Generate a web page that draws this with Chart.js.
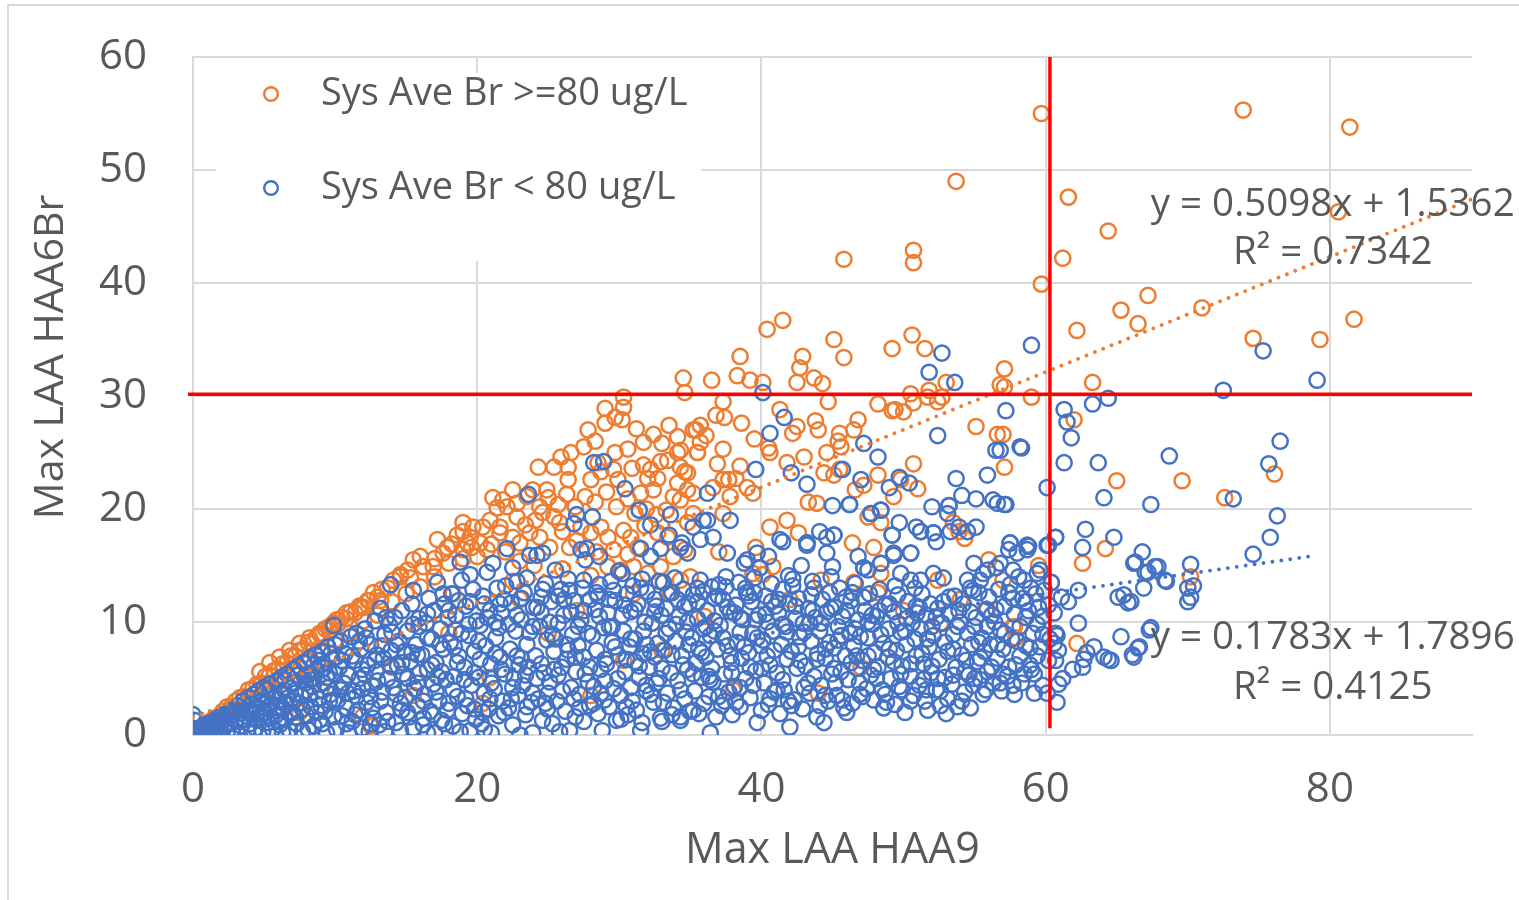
<!DOCTYPE html>
<html>
<head>
<meta charset="utf-8">
<script src="https://cdn.jsdelivr.net/npm/chart.js@4.4.1/dist/chart.umd.min.js"></script>
<style>
html,body{margin:0;padding:0;background:#fff;}
#wrap{width:1519px;height:900px;position:relative;}
canvas{display:block;}
</style>
</head>
<body>
<div id="wrap"><canvas id="c" width="1519" height="900"></canvas></div>
<script>
// ---------- data ----------
const seriesNames = ['Sys Ave Br >=80 ug/L', 'Sys Ave Br < 80 ug/L'];
const xTitle = 'Max LAA HAA9';
const yTitle = 'Max LAA HAA6Br';
const xTicks = [0, 20, 40, 60, 80];
const yTicks = [0, 10, 20, 30, 40, 50, 60];

const orangePts = [
[59.7,55.0],[73.9,55.3],[81.4,53.8],[53.7,49.0],[61.6,47.6],[50.7,42.9],[50.7,41.8],[45.8,42.1],[64.4,44.6],[61.2,42.2],[59.7,39.9],[80.6,46.3],[67.2,38.9],[65.3,37.6],[66.5,36.4],[62.2,35.8],[71.0,37.8],[81.7,36.8],[74.6,35.1],[79.3,35.0],[63.3,31.2],[59.0,29.9],[57.1,32.4],[57.1,30.8],[62.0,27.9],[57.0,26.6],[57.1,23.7],[65.0,22.5],[69.6,22.5],[72.6,21.0],[76.1,23.1],[64.2,16.5],[62.6,15.2],[70.2,14.0],[62.2,8.1],[57.8,9.6],
[40.4,35.9],[41.5,36.7],[45.1,35.0],[49.2,34.2],[50.6,35.4],[51.5,34.2],[38.5,33.5],[42.9,33.5],[45.8,33.4],[42.7,32.5],[34.5,31.6],[36.5,31.4],[38.3,31.8],[39.2,31.4],[40.1,31.2],[42.5,31.2],[43.7,31.6],[44.3,31.1],[44.7,29.5],[50.5,30.2],[51.8,30.5],[53.0,31.2],[50.7,29.4],[48.2,29.3],[49.4,28.8],[56.8,31.0],[34.6,30.3],[37.3,29.5],[37.4,28.1],[52.4,29.5],[52.7,29.9],[50.0,28.6],[55.1,27.3],[56.6,26.6],[46.8,27.9],[46.5,27.0],[45.5,26.7],[45.4,26.0],[45.6,25.5],[44.6,25.0],[41.3,28.8],[42.2,26.7],[42.5,27.3],[40.5,25.4],[40.6,25.0],[37.3,25.3],[35.4,27.0],[36.1,26.5],[35.7,25.9],[35.5,25.0],[34.3,25.2],[35.7,27.4],[35.2,27.0],
[30.3,29.9],[30.3,29.0],[30.2,27.9],[29.0,28.9],[29.0,27.6],[29.7,28.1],[27.5,25.5],[29.7,25.0],[31.7,25.9],[33.5,27.4],[34.1,26.4],[24.3,23.7],[25.4,23.7],[26.4,23.7],[26.4,22.6],[28.0,22.6],[28.7,23.3],[28.5,24.1],[29.6,23.5],[29.9,22.6],[31.7,23.9],[32.2,23.5],[32.9,24.2],[33.4,24.3],[34.1,25.0],[34.6,23.3],[32.0,22.7],[32.7,22.7],[33.8,21.1],[34.8,21.7],[21.1,21.0],[21.8,20.8],[22.5,21.7],[23.5,21.1],[23.9,21.7],[24.9,21.7],[25.0,21.0],[21.4,20.1],[22.1,20.2],[22.8,20.5],[24.4,20.2],[24.6,19.7],[19.0,18.8],[19.7,18.4],[20.4,18.4],[19.5,17.5],[19.0,18.0],[20.9,19.0],[21.6,18.4],[19.3,17.0],[19.6,16.6],[19.0,16.4],[20.2,17.0],[20.7,16.4],[17.9,16.6],[17.2,17.3],[17.6,16.1],[16.0,15.8],[15.5,15.5],[16.2,14.9],[16.9,14.9],[15.1,14.6],[14.6,14.0],[14.1,13.7],[12.7,12.6],[12.3,11.9],[11.8,11.3],[13.2,11.9],[10.8,10.8],[10.1,10.2],[9.6,9.6],[8.9,9.0],[8.2,8.6],[7.5,8.1],[6.8,7.5],[6.1,6.9],[5.4,6.4],[4.7,5.6],[21.6,17.9],[22.5,17.5],[23.0,17.0],[23.7,17.9],[24.4,17.5],[25.1,16.6],[25.4,19.3],[25.8,18.8],[27.3,18.4],[28.0,17.9],[28.7,18.4],[29.2,17.5],[30.3,18.1],[29.6,16.4],[31.5,21.4],[32.4,21.7],[34.1,22.3],[35.2,21.4],[35.5,25.0],[32.7,17.9],[33.4,17.5],[30.8,17.5],[31.3,16.6],[29.2,14.9],[30.1,14.6],[31.0,14.9],[32.0,14.3],[32.9,14.9],[33.8,15.8],[34.3,13.7],[33.1,13.5],[33.6,12.6],
[22.8,19.3],[23.4,18.6],[24.1,19.0],[25.7,20.4],[26.3,21.3],[26.9,20.2],[27.6,21.1],[28.3,20.6],[29.1,21.5],[29.8,20.2],[30.6,20.9],[31.1,19.6],[31.9,20.0],[32.6,19.5],[33.3,19.9],[26.0,18.0],[27.0,17.2],[28.4,16.2],[30.6,16.0],[31.8,18.5],[30.9,23.6],[30.6,25.3],[31.2,27.1],[32.4,26.6],[33.0,25.8],[27.8,27.0],[28.3,26.0],[26.6,25.0],[25.9,24.6],
[49.2,28.7],[51.7,29.9],[50.7,24.0],[51.0,21.8],[49.3,21.1],[49.8,22.6],[48.2,23.0],[47.2,22.1],[46.6,21.7],[44.4,23.2],[45.1,23.0],[45.5,23.5],[43.3,20.6],[43.9,20.5],[47.5,19.3],[48.4,18.8],[47.9,16.6],[46.4,17.0],[41.8,19.0],[42.6,17.9],[40.6,18.4],[53.5,18.8],[54.3,17.4],[53.9,18.0],[39.6,16.6],[37.0,16.2],[34.6,16.4],[39.4,14.3],[40.8,14.9],[40.1,14.2],[44.2,13.7],[46.5,13.5],[48.2,12.6],[48.4,14.3],[52.4,13.7],[57.0,13.7],[60.4,13.5],[55.9,11.1],[57.7,9.6],[57.9,8.6],[52.6,9.9],[37.8,21.1],[37.3,19.6],[35.2,19.6],[34.8,18.8],[34.3,20.8],[34.3,23.7],[34.8,23.2],[39.0,21.9],[39.4,21.4],[37.7,22.6],[38.2,22.7],[36.6,21.9],[37.3,22.6],[43.8,27.8],[44.0,27.0],[36.8,28.3],[38.6,27.6],[39.5,26.2],[36.9,24.0],[38.5,23.8],[41.8,24.1],[43.0,24.6],
[0.3,0.3],[0.6,0.7],[0.9,0.8],[1.2,1.2],[1.5,1.5],[1.8,1.6],[2.1,2.1],[2.4,2.5],[2.7,2.5],[3.0,3.0],[3.3,3.3],[3.6,3.4],[3.9,4.0],[4.2,4.1],[4.5,4.5],[4.8,4.6],[5.1,5.2],[5.4,5.3],[5.7,5.7],[6.0,5.8],[6.3,6.3],[6.6,6.4],[6.9,7.0],[7.2,7.0],[7.5,7.5],[7.8,7.6],[8.1,8.2],[8.4,8.1],[8.7,8.7],[9.0,8.8],[9.3,9.4],[9.6,9.3],[9.9,9.9],[10.2,9.8],[10.5,10.4],[10.8,10.3],[11.1,10.9],[11.4,10.8],[11.7,11.4],[12.0,11.3],[12.4,11.9],[13.0,12.2],[13.3,12.9],[13.7,13.0],[14.6,14.2],[15.3,13.9],[17.0,15.6],[18.2,16.9],[18.6,17.7],
[4.0,3.2],[5.0,4.1],[6.0,4.7],[7.0,5.9],[8.0,6.6],[9.0,7.3],[10.0,8.4],[11.0,9.0],[12.0,10.1],[13.0,10.6],[14.0,11.8],[15.0,12.5],[16.0,13.1],[17.0,14.0],[18.0,15.2],[19.0,15.6],[20.0,15.8],[21.0,16.9],[22.0,16.2],[23.0,15.4],[24.0,15.0],[26.0,14.7],[28.0,14.1],[18.3,12.5],[22.5,13.6],[26.5,16.6],
[11.9,1.6],[16.5,5.8],[20.4,2.8],[30.3,6.6],[20.9,5.1],[25.0,9.0],[28.0,3.5],[33.0,7.5],[36.0,10.5],[38.0,4.0],[44.0,3.7],[23.0,12.0],[27.0,11.0],[31.0,12.5],[18.0,9.0],[14.0,6.0],[9.0,4.0],[35.0,14.0],[42.0,12.0],[47.0,6.0],[50.0,11.0],[54.0,12.0],[56.0,15.5],[59.5,15.0],[12.5,0.8],[7.5,2.0],[15.5,3.5]
];

const bluePts = [
[0.0,0.6],[0.1,1.3],[0.0,1.8],[0.1,0.1],[0.2,0.3],[0.3,0.1],[0.4,0.5],[0.5,0.2],[0.6,0.6],[0.7,0.3],[0.8,0.8],[0.9,0.4],[1.0,0.1],[1.0,1.0],[1.1,0.6],[1.2,0.3],[1.3,1.1],[1.4,0.7],[1.5,0.2],[1.6,1.3],[1.7,0.9],[1.8,0.5],[1.9,1.6],[2.0,0.2],[2.0,1.1],[2.1,1.8],[2.2,0.7],[2.3,1.4],[2.4,0.3],[2.5,2.0],[2.6,1.0],[2.7,1.7],[2.8,0.5],[2.9,2.3],[3.0,1.3],
[3.1,0.2],[3.2,2.6],[3.3,1.9],[3.4,0.8],[3.5,3.0],[3.6,1.4],[3.7,2.2],[3.8,0.4],[3.9,3.3],[4.0,1.0],[4.1,2.7],[4.2,1.8],[4.3,3.6],[4.4,0.6],[4.5,2.3],[4.6,3.9],[4.7,1.5],[4.8,3.0],[4.9,0.3],[5.0,4.2],[5.1,2.0],[5.2,3.5],[5.3,1.1],[5.4,4.5],[5.5,2.7],[5.6,0.5],[5.7,3.8],[5.8,1.7],[5.9,4.8],[6.0,3.1],
[6.1,0.9],[6.2,5.1],[6.3,2.4],[6.4,4.0],[6.5,1.4],[6.6,5.4],[6.7,3.3],[6.8,0.4],[6.9,4.6],[7.0,2.0],[7.1,5.8],[7.2,3.7],[7.3,1.0],[7.4,6.1],[7.5,2.8],[7.6,4.9],[7.7,0.3],[7.8,6.4],[7.9,3.9],[8.0,1.7],[8.1,5.3],[8.2,6.8],[8.3,2.5],[8.4,4.3],[8.5,0.8],[8.6,7.1],[8.7,5.7],[8.8,3.2],[8.9,1.3],[9.0,6.2],[9.1,7.4],[9.2,4.6],[9.3,2.1],[9.4,0.2],[9.5,7.8],[9.6,5.5],[9.7,3.6],[9.8,6.7],[9.9,1.6],[10.0,8.0],[9.9,9.7],
[5.3,2.5],[5.8,3.3],[6.5,2.9],[7.0,4.5],[7.6,3.5],[8.0,5.3],[8.5,6.2],[9.0,2.6],[9.5,4.2],[10.0,5.4],[6.0,1.2],[7.2,1.6],[4.5,1.3],
[0.5,0.4],[1.2,0.8],[1.8,1.2],[2.3,0.9],[2.7,2.1],[3.3,1.2],[3.6,2.7],[4.0,2.0],[4.3,0.2],[4.6,3.3],[4.9,1.9],[5.2,4.0],[5.5,1.5],[5.9,2.4],[6.2,3.8],[6.5,4.9],[6.8,1.9],[7.1,3.0],[7.4,5.3],[7.7,2.3],[7.9,4.6],[8.2,3.6],[8.5,5.0],[8.8,6.6],[9.1,1.0],[9.4,5.1],[9.7,7.2],[9.9,3.1],[6.3,0.2],[8.1,0.5],
[10.1,0.5],[10.2,3.1],[10.3,6.0],[10.4,8.3],[10.5,1.7],[10.6,4.6],[10.7,7.2],[10.8,2.4],[10.9,5.3],[10.95,0.2],
[11.1,8.7],[11.2,1.2],[11.3,3.9],[11.4,6.6],[11.5,9.0],[11.6,2.2],[11.7,5.0],[11.8,7.6],[11.9,0.6],[11.95,4.1],
[12.1,9.4],[12.2,2.9],[12.3,6.2],[12.4,0.3],[12.5,8.0],[12.6,4.4],[12.7,1.5],[12.8,10.1],[12.9,5.6],[12.95,7.1],[12.5,3.4],
[13.1,0.9],[13.2,11.2],[13.3,3.8],[13.4,6.8],[13.5,8.9],[13.6,2.0],[13.7,5.0],[13.8,9.8],[13.9,13.3],[13.95,7.5],[13.5,0.3],
[14.1,4.2],[14.2,10.4],[14.3,1.1],[14.4,6.1],[14.5,8.3],[14.6,2.8],[14.6,0.4],[14.7,11.0],[14.8,5.4],[14.9,7.4],[14.95,3.3],
[15.1,9.2],[15.2,1.6],[15.3,6.5],[15.4,11.6],[15.5,0.6],[15.6,4.1],[15.7,8.0],[15.8,2.6],[15.9,10.3],[15.95,5.5],[15.5,12.8],
[16.1,7.1],[16.2,0.9],[16.3,3.6],[16.4,9.9],[16.5,5.8],[16.6,12.1],[16.7,2.1],[16.8,8.5],[16.9,4.5],[16.95,11.0],[16.5,0.2],
[17.0,0.2],[17.1,6.4],[17.2,13.5],[17.3,3.0],[17.4,9.4],[17.5,1.3],[17.6,7.6],[17.7,11.6],[17.8,4.9],[17.9,2.2],[17.95,10.4],[17.5,5.6],
[18.1,8.2],[18.2,12.5],[18.3,0.8],[18.4,5.2],[18.5,10.6],[18.6,3.4],[18.7,7.0],[18.8,0.3],[18.8,15.3],[18.9,13.7],[18.95,1.9],[18.5,9.3],
[19.1,6.0],[19.2,11.4],[19.3,2.6],[19.4,8.8],[19.5,0.4],[19.6,4.4],[19.7,12.9],[19.8,7.4],[19.9,1.4],[19.95,10.1],[19.5,14.2],
[20.1,5.1],[20.2,9.7],[20.3,1.0],[20.4,12.3],[20.5,3.7],[20.6,7.9],[20.7,14.4],[20.8,2.3],[20.9,11.0],[20.95,6.3],[20.5,0.5],
[21.0,0.2],[21.1,15.2],[21.2,4.1],[21.3,8.6],[21.4,13.0],[21.5,1.7],[21.6,6.9],[21.7,10.8],[21.8,3.0],[21.9,12.0],[21.95,5.4],[21.5,9.5],
[22.1,16.5],[22.2,2.4],[22.3,7.6],[22.4,11.7],[22.5,0.9],[22.6,5.0],[22.7,9.2],[22.8,13.6],[22.9,3.5],[22.95,6.2],[22.5,14.8],
[23.0,0.0],[23.1,10.2],[23.2,4.4],[23.3,12.6],[23.4,1.8],[23.5,8.0],[23.6,21.3],[23.6,6.0],[23.7,15.9],[23.8,2.9],[23.9,0.2],[23.95,11.3],[23.5,13.9],
[24.1,7.0],[24.2,15.9],[24.3,3.2],[24.4,9.6],[24.5,12.2],[24.6,16.1],[24.6,1.3],[24.7,5.5],[24.8,13.4],[24.9,8.4],[24.95,2.3],[24.5,10.9],
[25.1,4.7],[25.2,11.8],[25.3,1.0],[25.4,7.4],[25.5,14.6],[25.6,3.0],[25.7,9.9],[25.8,0.3],[25.9,12.9],[25.95,6.0],[25.5,8.5],
[26.1,10.6],[26.2,2.1],[26.3,6.7],[26.4,13.8],[26.5,0.4],[26.6,4.2],[26.7,8.9],[26.8,18.7],[26.8,11.9],[26.9,1.6],[26.95,5.6],[26.5,12.8],
[27.0,19.5],[27.1,7.9],[27.2,3.6],[27.3,16.4],[27.3,10.2],[27.4,13.0],[27.5,1.2],[27.6,15.5],[27.6,5.4],[27.7,16.5],[27.8,9.0],[27.9,2.6],[27.95,12.0],[27.5,6.9],
[28.1,19.3],[28.2,24.1],[28.2,4.3],[28.3,11.1],[28.4,7.5],[28.5,1.9],[28.6,15.8],[28.6,13.3],[28.7,5.8],[28.8,0.4],[28.9,24.2],[28.9,9.5],[28.95,3.1],[28.5,12.3],
[29.1,6.3],[29.2,10.8],[29.3,2.5],[29.4,13.6],[29.5,8.2],[29.6,4.1],[29.7,11.9],[29.8,1.3],[29.9,7.1],[29.95,14.5],[29.5,9.6],
[30.1,3.5],[30.2,14.3],[30.3,9.2],[30.4,21.8],[30.4,5.6],[30.5,12.5],[30.6,1.8],[30.7,7.8],[30.8,10.9],[30.9,3.0],[30.95,13.2],[30.5,6.7],
[31.1,8.5],[31.2,2.2],[31.3,11.6],[31.4,19.9],[31.4,5.1],[31.5,16.5],[31.5,0.4],[31.6,1.1],[31.6,13.8],[31.7,7.2],[31.8,10.0],[31.9,3.9],[31.95,12.7],
[32.1,6.0],[32.2,18.6],[32.2,15.8],[32.3,9.9],[32.4,2.9],[32.5,12.0],[32.6,4.6],[32.7,8.1],[32.8,13.6],[32.9,1.5],[32.95,10.6],[32.5,6.9],
[33.0,1.2],[33.1,13.5],[33.2,7.5],[33.3,11.2],[33.4,3.7],[33.5,17.7],[33.5,9.4],[33.6,19.5],[33.6,5.5],[33.7,12.6],[33.8,2.4],[33.9,13.9],[33.95,8.3],
[34.1,4.8],[34.2,10.5],[34.3,1.3],[34.3,1.6],[34.4,17.0],[34.4,7.0],[34.5,12.9],[34.6,3.2],[34.7,9.1],[34.8,16.1],[34.8,5.8],[34.9,11.6],[34.95,2.1],
[35.1,8.6],[35.2,12.4],[35.3,3.9],[35.4,6.4],[35.5,10.3],[35.6,1.9],[35.7,13.7],[35.8,5.1],[35.9,9.4],[35.95,2.8],[35.5,11.8],
[36.1,6.9],[36.2,21.4],[36.2,11.0],[36.3,3.4],[36.4,0.2],[36.4,8.8],[36.5,13.1],[36.6,4.7],[36.7,10.1],[36.8,1.6],[36.9,7.6],[36.95,12.3],[36.5,5.9],
[37.1,9.7],[37.2,2.6],[37.3,12.0],[37.4,5.4],[37.5,14.0],[37.6,7.9],[37.7,3.8],[37.8,10.9],[37.9,6.4],[37.95,1.8],[37.5,13.1],
[38.1,4.3],[38.2,11.5],[38.3,8.2],[38.4,13.5],[38.5,2.5],[38.6,6.8],[38.7,10.2],[38.8,15.2],[38.9,5.0],[38.95,12.6],[38.5,9.1],
[39.1,7.3],[39.2,3.3],[39.3,11.8],[39.4,9.0],[39.5,13.9],[39.6,23.5],[39.6,5.7],[39.7,1.1],[39.8,10.6],[39.9,14.8],[39.95,7.9],[39.5,12.6],
[40.1,30.3],[40.1,8.4],[40.2,4.6],[40.3,12.3],[40.4,10.0],[40.5,2.7],[40.6,26.7],[40.6,6.2],[40.7,13.4],[40.8,9.2],[40.9,3.8],[40.95,11.4],[40.5,15.8],
[41.1,5.5],[41.2,10.8],[41.3,1.9],[41.4,8.0],[41.5,17.1],[41.5,12.9],[41.6,28.1],[41.6,4.0],[41.7,9.6],[41.8,6.7],[41.9,14.1],[41.95,11.6],
[42.0,0.7],[42.1,23.2],[42.1,7.4],[42.2,13.2],[42.3,3.1],[42.4,10.3],[42.5,5.9],[42.6,12.1],[42.7,8.7],[42.8,15.0],[42.9,2.3],[42.95,9.9],
[43.1,6.1],[43.2,22.2],[43.2,17.0],[43.3,11.2],[43.4,3.7],[43.5,8.3],[43.6,13.6],[43.7,5.2],[43.8,10.4],[43.9,1.6],[43.95,7.2],[43.5,12.4],
[44.1,18.0],[44.1,9.2],[44.2,4.4],[44.3,12.0],[44.4,1.1],[44.5,6.8],[44.6,17.5],[44.6,10.9],[44.7,3.0],[44.8,8.2],[44.9,14.0],[44.95,5.4],
[45.0,20.3],[45.1,17.7],[45.1,7.7],[45.2,11.3],[45.3,3.5],[45.4,9.6],[45.5,13.0],[45.6,5.6],[45.7,23.5],[45.7,10.5],[45.8,2.4],[45.9,7.0],[45.95,12.2],
[46.1,4.9],[46.2,20.4],[46.2,9.0],[46.3,11.9],[46.4,2.8],[46.5,7.9],[46.6,13.4],[46.7,5.9],[46.8,10.2],[46.9,3.6],[46.95,8.7],
[47.0,22.6],[47.1,6.6],[47.2,25.8],[47.2,14.8],[47.3,11.0],[47.4,4.1],[47.5,8.6],[47.6,12.5],[47.7,19.6],[47.7,5.3],[47.8,9.8],[47.9,3.1],[47.95,7.3],
[48.1,10.5],[48.2,24.6],[48.2,6.0],[48.3,12.9],[48.4,19.9],[48.4,15.2],[48.5,4.0],[48.6,8.1],[48.7,11.5],[48.8,2.9],[48.9,6.9],[48.95,9.4],
[49.0,21.9],[49.1,5.0],[49.2,17.7],[49.3,16.1],[49.3,10.9],[49.4,2.7],[49.5,7.5],[49.6,12.4],[49.7,22.8],[49.7,18.8],[49.7,4.3],[49.8,9.1],[49.9,6.1],
[50.1,2.0],[50.2,8.0],[50.3,11.8],[50.4,22.3],[50.5,16.1],[50.5,5.2],[50.6,9.9],[50.7,3.5],[50.8,13.0],[50.9,18.4],[50.9,7.0],[50.95,10.8],
[51.1,4.4],[51.2,18.0],[51.2,9.4],[51.3,12.5],[51.4,6.3],[51.5,3.0],[51.6,10.6],[51.7,2.2],[51.8,7.8],[51.9,11.6],[51.95,5.5],
[52.0,20.2],[52.1,17.9],[52.1,8.8],[52.3,17.1],[52.3,4.0],[52.4,26.5],[52.4,11.2],[52.5,6.7],[52.6,2.6],[52.7,9.9],[52.8,13.9],[52.9,5.1],
[53.0,1.9],[53.1,19.6],[53.1,7.4],[53.2,20.3],[53.2,10.7],[53.3,18.0],[53.4,4.5],[53.5,8.9],[53.6,12.3],[53.7,22.7],[53.7,6.0],[53.8,2.5],[53.9,18.4],[53.95,10.0],
[54.1,21.2],[54.1,7.1],[54.2,11.6],[54.3,3.8],[54.5,18.0],[54.5,9.0],[54.6,5.3],[54.7,13.0],[54.8,8.0],[54.9,4.4],[54.95,15.2],
[55.1,20.9],[55.1,18.4],[55.1,10.4],[55.2,6.5],[55.3,12.6],[55.4,4.9],[55.5,8.6],[55.6,14.3],[55.7,7.4],[55.8,11.1],[55.9,23.0],[55.9,5.6],
[56.0,12.2],[56.1,8.0],[56.3,20.8],[56.3,4.6],[56.4,10.0],[56.5,25.2],[56.5,14.8],[56.6,20.5],[56.6,6.8],[56.7,12.9],[56.8,25.2],[56.8,9.3],[56.9,3.9],
[57.0,7.6],[57.1,20.4],[57.1,11.4],[57.2,28.7],[57.2,20.4],[57.3,5.2],[57.4,16.4],[57.5,17.0],[57.5,13.3],[57.6,8.5],[57.7,4.4],[57.8,10.7],[57.9,6.2],
[58.1,14.0],[58.2,25.5],[58.2,9.6],[58.3,25.4],[58.4,12.1],[58.5,5.4],[58.6,7.9],[58.7,16.8],[58.8,16.7],[58.8,11.0],[58.9,6.2],[58.95,13.0],
[59.0,34.5],[59.1,9.0],[59.2,3.7],[59.3,12.5],[59.4,7.0],[59.6,7.8],[59.6,14.6],[59.8,10.5],[59.9,12.8],
[60.1,21.9],[60.1,16.8],[60.1,3.7],[60.2,16.8],[60.2,11.5],[60.3,8.5],[60.4,13.5],[60.6,8.1],[60.7,17.5],[60.7,9.0],[60.7,6.6],[60.8,2.9],[60.8,8.8],[60.9,7.5],
[61.1,12.2],[61.2,5.0],[61.3,28.8],[61.3,24.1],[61.5,27.7],[61.6,11.8],[61.8,26.3],[61.9,5.8],
[62.3,12.8],[62.3,9.9],[62.6,16.6],[62.6,6.0],[62.7,6.7],[62.8,18.2],[62.9,7.3],[63.3,29.3],[63.4,7.8],[63.7,24.1],[64.1,21.0],[64.1,6.9],[64.4,29.8],[64.4,6.7],[64.6,6.6],[64.8,17.5],[65.1,12.2],[65.3,8.7],[65.5,12.4],[65.8,11.7],[66.0,11.8],[66.1,7.1],[66.2,15.2],[66.2,6.9],[66.3,15.3],[66.5,7.7],[66.6,7.8],[66.8,16.2],[66.9,13.0],[67.0,14.4],[67.2,14.4],[67.3,9.3],[67.4,20.4],[67.4,9.5],[67.7,14.9],[67.9,14.9],[68.4,13.7],[68.5,13.6],[68.7,24.7],[70.0,11.8],[70.0,13.0],[70.2,15.1],[70.2,12.2],[70.4,13.2],[72.5,30.5],[73.2,20.9],[74.6,16.0],[75.3,34.0],[75.7,24.0],[75.8,17.5],[76.3,19.4],[76.5,26.0],[79.1,31.4],
[52.7,33.8],[51.8,32.1],[53.6,31.2],
[36.2,19.0],[37.8,19.0],[41.3,17.3],[43.2,16.8],[44.6,16.1],[45.0,14.9],[46.8,15.8],[47.5,14.6],[49.3,15.9],[49.8,14.3],[50.5,13.7],[51.2,13.7],[52.1,14.3],[54.5,13.7],[55.9,14.6],[56.8,15.2],[57.7,14.6],[58.5,13.7],[59.4,14.3],[54.9,12.8],[55.4,13.7],[58.0,16.1],[58.7,16.4],[34.3,16.6],[35.7,17.3],[36.6,17.5],[35.2,18.4],[35.9,19.0],[37.6,16.1],[39.0,15.5],[39.7,16.1],[32.9,16.5],[48.4,15.2],[50.5,16.1],[51.2,18.0],[52.1,17.9],[47.2,14.8],
[46.2,20.4],[53.2,20.3],[49.2,17.7],[47.7,19.6],[48.4,19.9],[43.2,17.0],[45.1,17.7],[57.5,17.0],[60.7,17.5],
[8.3,4.9],[8.7,2.0],[9.2,5.9],[9.6,3.0],[10.1,6.9],[10.4,4.0],[10.8,1.0],[11.2,7.0],[11.5,3.4],[11.9,5.8],
[12.2,8.6],[12.6,2.4],[13.0,4.8],[13.3,7.9],[13.7,1.2],[14.0,9.1],[14.3,3.6],[14.7,6.4],[15.1,2.0],[15.4,7.3],[15.8,4.6],[15.9,9.6],
[16.2,1.5],[16.5,10.7],[16.8,6.2],[17.1,3.8],[17.4,8.0],[17.7,1.0],[18.0,11.0],[18.3,4.0],[18.6,6.4],[18.9,9.0],[19.2,3.2],[19.5,11.8],[19.8,5.5],
[20.1,8.3],[20.4,2.0],[20.7,10.4],[21.0,4.6],[21.3,7.2],[21.6,11.6],[21.9,2.0],[22.2,9.8],[22.5,4.2],[22.8,7.0],[23.1,12.1],[23.4,5.3],[23.7,9.1],[23.9,3.7],
[24.2,11.3],[24.5,6.3],[24.8,2.8],[25.1,10.0],[25.4,5.8],[25.7,12.3],[26.0,3.9],[26.3,8.0],[26.6,10.9],[26.9,6.9],[27.2,2.4],[27.5,11.0],[27.8,4.7],
[28.1,8.8],[28.4,12.6],[28.7,3.7],[29.0,6.7],[29.3,9.6],[29.6,12.8],[29.9,5.0],[30.2,10.6],[30.5,2.5],[30.8,8.5],[31.1,11.1],[31.4,6.1],[31.7,9.2],[31.9,4.4],
[32.2,7.4],[32.5,10.9],[32.8,5.0],[33.1,2.9],[33.4,12.5],[33.7,7.1],[34.0,9.8],[34.3,4.0],[34.6,11.4],[34.9,8.0],[35.2,5.4],[35.5,13.0],[35.8,7.3],
[36.1,9.6],[36.4,4.9],[36.7,12.1],[37.0,3.4],[37.3,8.6],[37.6,11.3],[37.9,5.5],[38.2,2.9],[38.5,10.4],[38.8,7.8],[39.1,12.3],[39.4,4.4],[39.7,8.6],
[40.0,5.9],[40.3,10.7],[40.6,3.2],[40.9,7.5],[41.2,12.0],[41.5,4.9],[41.8,9.1],[42.1,2.6],[42.4,11.4],[42.7,6.6],[43.0,9.1],[43.3,4.6],[43.6,11.0],[43.9,6.7],
[44.2,9.9],[44.5,3.5],[44.8,12.6],[45.1,5.9],[45.4,8.4],[45.7,3.1],[46.0,11.0],[46.3,6.4],[46.6,9.4],[46.9,4.6],[47.2,12.2],[47.5,7.0],[47.8,10.6],
[48.1,5.0],[48.4,8.9],[48.7,3.6],[49.0,11.6],[49.3,6.5],[49.6,9.9],[49.9,4.0],[50.2,10.3],[50.5,6.3],[50.8,8.5],[51.1,11.3],[51.4,4.9],[51.7,8.5],
[52.0,6.1],[52.3,10.4],[52.6,3.9],[52.9,8.2],[53.2,12.2],[53.5,5.3],[53.8,9.6],[54.1,3.0],[54.4,6.6],[54.7,10.9],[55.0,5.0],[55.3,8.2],[55.6,3.6],[55.9,9.6],
[56.2,6.0],[56.5,11.1],[56.8,4.6],[57.1,9.0],[57.4,6.0],[57.7,12.1],[58.0,8.3],[58.3,4.6],[58.6,10.4],[58.9,7.7],[59.2,5.4],[59.5,11.3],[59.8,8.9],
[10.5,6.6],[10.9,3.7],[11.4,1.8],[11.7,8.3],[12.1,5.3],[12.5,1.0],[12.8,6.6],[13.2,3.0],[13.6,10.4],[13.9,6.1],[14.3,8.0],[14.7,2.2],
[15.1,5.0],[15.5,9.8],[15.8,7.1],[16.2,3.0],[16.5,8.6],[16.9,1.8],[17.2,5.2],[17.6,12.5],[18.0,2.8],[18.4,7.8],[18.7,11.9],[19.1,4.9],
[19.4,9.8],[19.8,2.3],[20.2,6.7],[20.5,11.6],[20.9,3.2],[21.3,10.0],[21.7,5.8],[22.0,13.2],[22.4,3.2],[22.8,10.6],[23.1,6.8],[23.5,2.5],
[23.9,9.6],[24.2,5.0],[24.6,12.9],[25.0,3.7],[25.3,8.9],[25.7,5.3],[26.1,12.0],[26.4,7.5],[26.8,3.2],[27.1,9.6],[27.5,13.7],[27.9,6.0],
[28.2,2.8],[28.6,10.5],[29.0,4.8],[29.3,12.0],[29.7,7.8],[30.1,1.4],[30.4,11.5],[30.8,4.2],[31.1,6.5],[31.5,13.0],[31.9,8.0],[32.2,3.6],
[32.6,11.4],[33.0,5.9],[33.3,9.0],[33.7,1.8],[34.1,12.0],[34.5,6.2],[34.8,10.0],[35.2,2.2],[35.6,7.6],[35.9,12.7],[36.3,5.2],[36.7,9.2],
[37.0,13.3],[37.4,3.0],[37.8,7.0],[38.1,10.8],[38.5,4.2],[38.9,13.0],[39.2,6.0],[39.6,10.2],[40.0,2.2],[40.4,7.0],[40.7,11.8],[41.1,4.0],
[41.5,9.8],[41.9,3.0],[42.2,13.8],[42.6,7.8],[43.0,4.2],[43.4,9.9],[43.7,13.0],[44.1,2.6],[44.5,7.6],[44.9,11.2],[45.2,4.6],[45.6,8.8],
[46.0,2.0],[46.4,12.6],[46.7,7.0],[47.1,3.4],[47.5,10.0],[47.9,5.8],[48.3,11.0],[48.6,2.4],[49.0,7.6],[49.4,13.2],[49.8,5.4],[50.1,9.2],
[50.5,3.0],[50.9,11.4],[51.3,7.2],[51.6,4.0],[52.0,9.6],[52.4,5.0],[52.8,11.8],[53.1,3.2],[53.5,7.6],[53.9,11.0],[54.3,5.6],[54.7,2.4],
[55.0,9.6],[55.4,6.8],[55.8,4.0],[56.2,10.6],[56.6,8.0],[57.0,5.4],[57.4,12.6],[57.8,3.6],[58.2,7.0],[58.6,11.8],[59.0,5.8],[59.4,9.8],
[59.8,4.4],[60.2,6.6],[60.6,10.8],[60.9,4.5]
];

const orangeTrend = [[0, 1.5362], [90, 47.4182]];
const blueTrend = [[0, 1.7896], [78.6, 15.8040]];
const redVertical = [[60.3, 0.6], [60.3, 60]];
const redHorizontal = [[-0.35, 30.15], [90, 30.15]];
const trendText = [
  ['y = 0.5098x + 1.5362', 'R\u00B2 = 0.7342'],
  ['y = 0.1783x + 1.7896', 'R\u00B2 = 0.4125']
];

// ---------- styles ----------
const FONT = "'Open Sans', 'Noto Sans', sans-serif";
const TEXT = '#595959';
const ORANGE = '#ED7D31';
const BLUE = '#4472C4';
const GRID = '#D9D9D9';

const toXY = arr => arr.map(p => ({x: p[0], y: p[1]}));

const decor = {
  id: 'decor',
  beforeDraw(chart) {
    const ctx = chart.ctx;
    ctx.save();
    ctx.fillStyle = '#fff';
    ctx.fillRect(0, 0, chart.width, chart.height);
    ctx.strokeStyle = GRID;
    ctx.lineWidth = 2;
    ctx.beginPath();
    ctx.moveTo(8, chart.height);
    ctx.lineTo(8, 5);
    ctx.lineTo(chart.width, 5);
    ctx.stroke();
    ctx.restore();
  },
  beforeDatasetsDraw(chart) {
    const ctx = chart.ctx;
    ctx.save();
    ctx.fillStyle = '#fff';
    ctx.fillRect(216, 73, 485, 188);
    const items = [[ORANGE, 94], [BLUE, 188]];
    items.forEach((it, i) => {
      ctx.beginPath();
      ctx.strokeStyle = it[0];
      ctx.lineWidth = 2.4;
      ctx.arc(271, it[1], 6.8, 0, Math.PI * 2);
      ctx.stroke();
      ctx.fillStyle = TEXT;
      ctx.font = '38px ' + FONT;
      ctx.textAlign = 'left';
      ctx.textBaseline = 'middle';
      ctx.fillText(seriesNames[i], 321, it[1]);
    });
    ctx.restore();
  },
  afterDatasetsDraw(chart) {
    const ctx = chart.ctx;
    const xs = chart.scales.x, ys = chart.scales.y;
    ctx.save();
    ctx.fillStyle = TEXT;
    ctx.font = '38.5px ' + FONT;
    ctx.textAlign = 'center';
    ctx.textBaseline = 'middle';
    const cx = xs.getPixelForValue(80.2);
    ctx.fillText(trendText[0][0], cx, ys.getPixelForValue(46.9));
    ctx.fillText(trendText[0][1], cx, ys.getPixelForValue(42.65));
    ctx.fillText(trendText[1][0], cx, ys.getPixelForValue(8.6));
    ctx.fillText(trendText[1][1], cx, ys.getPixelForValue(4.2));
    ctx.font = '43px ' + FONT;
    ctx.fillText(xTitle, (chart.chartArea.left + chart.chartArea.right) / 2, 851);
    ctx.translate(51, 357);
    ctx.rotate(-Math.PI / 2);
    ctx.font = '41px ' + FONT;
    ctx.fillText(yTitle, 0, 0);
    ctx.restore();
  }
};

const pointDs = (label, pts, color, order) => ({
  label, data: toXY(pts), order,
  pointStyle: 'circle', pointRadius: 7.6, pointBorderWidth: 2.5,
  borderColor: color, backgroundColor: 'rgba(0,0,0,0)', showLine: false
});
const lineDs = (pts, color, width, dash, order, clip) => ({
  data: toXY(pts), order, showLine: true, pointRadius: 0,
  borderColor: color, borderWidth: width, borderDash: dash,
  borderCapStyle: dash.length ? 'round' : 'butt', fill: false, clip: clip
});

new Chart(document.getElementById('c'), {
  type: 'scatter',
  data: {
    datasets: [
      pointDs(seriesNames[0], orangePts, ORANGE, 6),
      pointDs(seriesNames[1], bluePts, BLUE, 5),
      lineDs(orangeTrend, ORANGE, 3.8, [0.01, 9], 3, 0),
      lineDs(blueTrend, BLUE, 3.8, [0.01, 9], 3, 0),
      lineDs(redVertical, '#FF0000', 3.5, [], 1, 0),
      lineDs(redHorizontal, '#FF0000', 3.5, [], 1, false)
    ]
  },
  options: {
    responsive: false,
    animation: false,
    devicePixelRatio: 1,
    events: [],
    layout: {padding: {left: 0, top: 57, right: 47, bottom: 0}},
    plugins: {legend: {display: false}, tooltip: {enabled: false}},
    scales: {
      x: {
        type: 'linear', min: 0, max: 90,
        afterFit(s) { s.height = 165; s.paddingLeft = 0; s.paddingRight = 0; },
        afterBuildTicks(s) { s.ticks = xTicks.map(v => ({value: v})); },
        grid: {color: GRID, lineWidth: 2, drawTicks: false},
        border: {color: GRID, width: 2},
        ticks: {padding: 30, color: TEXT, font: {family: FONT, size: 42}}
      },
      y: {
        type: 'linear', min: 0, max: 60,
        afterFit(s) { s.width = 193; s.paddingTop = 0; s.paddingBottom = 0; },
        afterBuildTicks(s) { s.ticks = yTicks.map(v => ({value: v})); },
        grid: {color: GRID, lineWidth: 2, drawTicks: false},
        border: {color: GRID, width: 2},
        ticks: {padding: 46, color: TEXT, font: {family: FONT, size: 42}}
      }
    }
  },
  plugins: [decor]
});
</script>
</body>
</html>
